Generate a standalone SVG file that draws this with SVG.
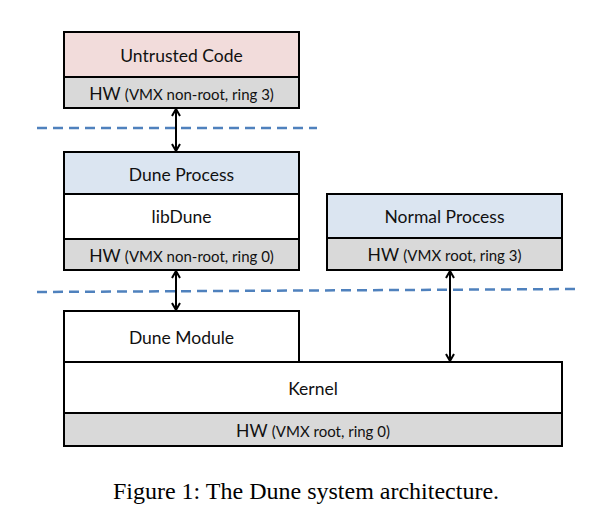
<svg xmlns="http://www.w3.org/2000/svg" width="598" height="516" viewBox="0 0 598 516">
<style>
.box{stroke:#000;stroke-width:2}
.pink{fill:#f2dcdb}.blue{fill:#dbe5f1}.gray{fill:#d9d9d9}.white{fill:#fff}
.t{font-family:Lato,"Open Sans",sans-serif;font-size:17.5px;fill:#111;text-anchor:middle}
.s{font-size:15px}
.dash{stroke:#4f81bd;stroke-width:2.5;stroke-dasharray:10 6;fill:none}
.arr{stroke:#000;stroke-width:2;fill:none;marker-start:url(#ah);marker-end:url(#ah)}
.cap{font-family:"Liberation Serif","Times New Roman",serif;font-size:24px;fill:#000;text-anchor:middle}
</style>
<defs>
<marker id="ah" viewBox="0 0 10 10" refX="9" refY="5" markerWidth="10" markerHeight="10" markerUnits="userSpaceOnUse" orient="auto-start-reverse">
<polyline points="2,1 9,5 2,9" fill="none" stroke="#000" stroke-width="2"/>
</marker>
</defs>
<rect width="598" height="516" fill="#fff"/>
<g id="dividers">
<line class="dash" x1="37" y1="128" x2="317" y2="128"/>
<line class="dash" x1="37" y1="292" x2="580" y2="289"/>
</g>
<g id="untrusted">
<rect class="box pink" x="64" y="32" width="235" height="45"/>
<rect class="box gray" x="64" y="77" width="235" height="31"/>
<text class="t" x="181.5" y="62">Untrusted Code</text>
<text class="t" x="181.5" y="100">HW <tspan class="s">(VMX non-root, ring 3)</tspan></text>
</g>
<g id="duneprocess">
<rect class="box blue" x="64" y="152" width="235" height="42"/>
<rect class="box white" x="64" y="194" width="235" height="45"/>
<rect class="box gray" x="64" y="239" width="235" height="31"/>
<text class="t" x="181.5" y="181">Dune Process</text>
<text class="t" x="181.5" y="223">libDune</text>
<text class="t" x="181.5" y="262">HW <tspan class="s">(VMX non-root, ring 0)</tspan></text>
</g>
<g id="normalprocess">
<rect class="box blue" x="327" y="194" width="235" height="44"/>
<rect class="box gray" x="327" y="238" width="235" height="32"/>
<text class="t" x="444.5" y="223">Normal Process</text>
<text class="t" x="444.5" y="261">HW <tspan class="s">(VMX root, ring 3)</tspan></text>
</g>
<g id="dunemodule">
<rect class="box white" x="64" y="311" width="235" height="51"/>
<text class="t" x="181.5" y="344">Dune Module</text>
</g>
<g id="kernel">
<rect class="box white" x="64" y="362" width="498" height="51"/>
<rect class="box gray" x="64" y="413" width="498" height="33"/>
<text class="t" x="313" y="395">Kernel</text>
<text class="t" x="313" y="437">HW <tspan class="s">(VMX root, ring 0)</tspan></text>
</g>
<g id="connectors">
<line class="arr" x1="176" y1="109" x2="176" y2="151"/>
<line class="arr" x1="176" y1="271" x2="176" y2="310"/>
<line class="arr" x1="450" y1="271" x2="450" y2="361"/>
</g>
<text class="cap" x="306" y="499">Figure 1: The Dune system architecture.</text>
</svg>
